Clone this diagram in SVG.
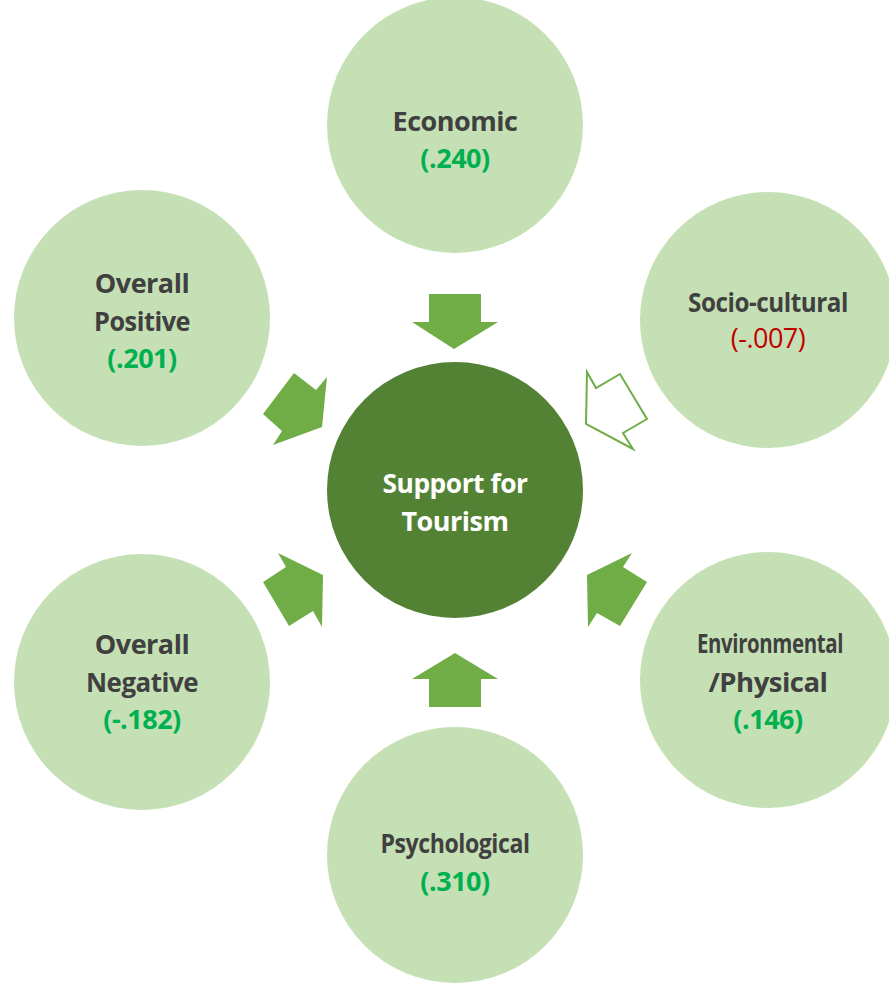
<svg xmlns="http://www.w3.org/2000/svg" width="889" height="985" viewBox="0 0 889 985">
<style>
.c{fill:#C5E0B4}
.hub{fill:#548235}
.t{font-family:"Open Sans","Liberation Sans",sans-serif;font-weight:bold;font-size:27px;fill:#404040;text-anchor:middle;letter-spacing:-0.5px}
.g{fill:#00B050}
.r{fill:#C00000;font-weight:normal}
.w{fill:#FFFFFF}
.a{fill:#70AD47}
.ao{fill:#FFFFFF;stroke:#70AD47;stroke-width:2}
</style>
<rect width="889" height="985" fill="#FFFFFF"/>
<g id="economic"><circle class="c" cx="455" cy="125" r="128"/>
<text class="t" x="455" y="131">Economic</text><text class="t g" x="455" y="168">(.240)</text></g>
<g id="overall-positive"><circle class="c" cx="142" cy="318" r="128"/>
<text class="t" x="142" y="293">Overall</text><text class="t" x="142" y="331" textLength="96" lengthAdjust="spacingAndGlyphs">Positive</text><text class="t g" x="142" y="368">(.201)</text></g>
<g id="socio-cultural"><circle class="c" cx="768" cy="320" r="128"/>
<text class="t" x="768" y="312" textLength="160" lengthAdjust="spacingAndGlyphs">Socio-cultural</text><text class="t r" x="768" y="348">(-.007)</text></g>
<g id="overall-negative"><circle class="c" cx="142" cy="682" r="128"/>
<text class="t" x="142" y="654">Overall</text><text class="t" x="142" y="692" textLength="112" lengthAdjust="spacingAndGlyphs">Negative</text><text class="t g" x="142" y="729">(-.182)</text></g>
<g id="environmental"><circle class="c" cx="768" cy="680" r="128"/>
<text class="t" x="770" y="653" textLength="146" lengthAdjust="spacingAndGlyphs">Environmental</text><text class="t" x="768" y="692" textLength="119" lengthAdjust="spacingAndGlyphs">/Physical</text><text class="t g" x="768" y="729">(.146)</text></g>
<g id="psychological"><circle class="c" cx="455" cy="855" r="128"/>
<text class="t" x="455" y="853" textLength="149" lengthAdjust="spacingAndGlyphs">Psychological</text><text class="t g" x="455" y="891">(.310)</text></g>
<g id="support"><circle class="hub" cx="455" cy="490" r="128"/>
<text class="t w" x="455" y="493" textLength="145" lengthAdjust="spacingAndGlyphs">Support for</text><text class="t w" x="455" y="531">Tourism</text></g>
<g id="connectors">
<polygon class="a" points="429,294 481,294 481,322 498,322 454,349 412,322 429,322"/>
<polygon class="a" points="429,707 481,707 481,679 498,679 455,653 412,679 429,679"/>
<polygon class="ao" points="587,372 596,388 620,374 647,419 623,433 633,449 586,424"/>
<polygon class="a" points="294,373 316,390 327,377 322,427 273,445 282,431 263,414"/>
<polygon class="a" points="278,553 286,567 263,582 289,626 313,611 322,627 323,575"/>
<polygon class="a" points="632,553 623,567 647,582 620,626 597,613 588,627 587,575"/>
</g>
</svg>
